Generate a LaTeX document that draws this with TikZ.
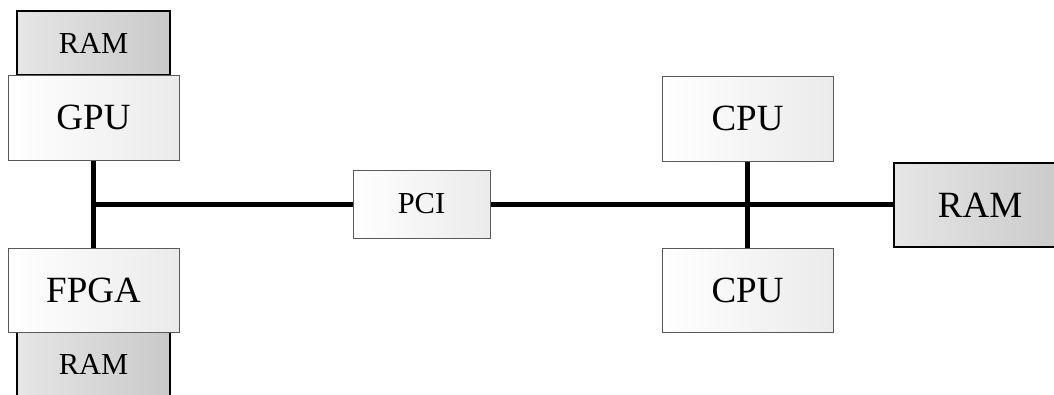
\documentclass[tikz,border=0pt]{standalone}
\usepackage{fontspec}
\setmainfont{Liberation Serif}
\tikzset{
  lightbox/.style={draw=black!65, line width=1pt, left color=white, right color=black!8, inner sep=0pt, font=\fontsize{37}{40}\selectfont},
  rambox/.style={draw=black, line width=1.5pt, left color=black!10, right color=black!21, inner sep=0pt},
  small/.style={font=\fontsize{30.5}{34}\selectfont},
  large/.style={font=\fontsize{37}{40}\selectfont},
  bus/.style={line width=5.5pt, black}
}
\begin{document}
\begin{tikzpicture}[x=1pt,y=-1pt]
\useasboundingbox (0,0) rectangle (1054,394);
\clip (0,0) rectangle (1054,394);
\node[rambox, small, minimum width=153pt, minimum height=64pt] (ramtop) at (93.5,43) {RAM};
\node[lightbox, large, minimum width=171pt, minimum height=85pt] (gpu) at (93.5,117.5) {GPU};
\node[rambox, small, minimum width=153pt, minimum height=64pt] (rambot) at (93.5,364) {RAM};
\node[lightbox, large, minimum width=171pt, minimum height=84pt] (fpga) at (93.5,290) {FPGA};
\node[lightbox, small, minimum width=137pt, minimum height=68pt] (pci) at (421.5,204) {PCI};
\node[lightbox, large, minimum width=171pt, minimum height=85pt] (cputop) at (747.5,118.5) {CPU};
\node[lightbox, large, minimum width=171pt, minimum height=84pt] (cpubot) at (747.5,290) {CPU};
\node[rambox, large, minimum width=172pt, minimum height=84pt] (ramright) at (980,205) {RAM};
\coordinate (j1) at (93.5,204.5);
\draw[bus] (gpu) -- (fpga);
\draw[bus] (j1) -- (j1 -| pci.west);
\draw[bus] (pci.east |- j1) -- (ramright.west |- j1);
\draw[bus] (cputop) -- (cpubot);
\end{tikzpicture}
\end{document}
